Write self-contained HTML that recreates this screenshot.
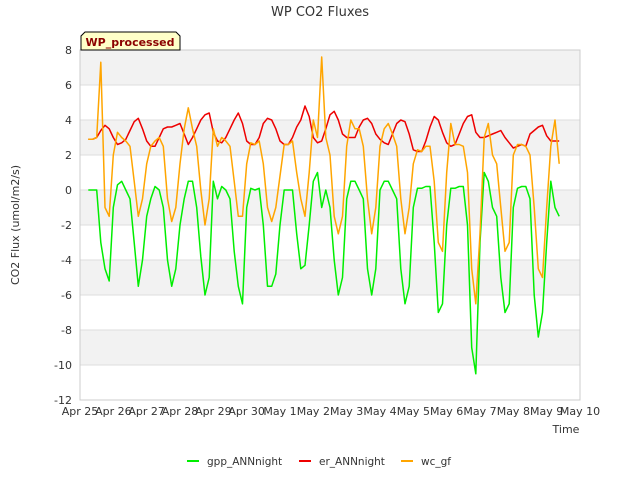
<!DOCTYPE html>
<html><head><meta charset="utf-8"><style>
body{margin:0;background:#fff;font-family:"Liberation Sans","DejaVu Sans",sans-serif}
svg text{font-family:"DejaVu Sans","Liberation Sans",sans-serif}
</style></head><body>
<svg id="chart" width="640" height="480" viewBox="0 0 640 480" xmlns="http://www.w3.org/2000/svg">
<g id="bands"></g><g id="grid"></g>
<rect x="80" y="50" width="500" height="350" fill="none" stroke="#ccc"/>
<g id="series"></g><g id="ticks"></g>
<text x="320" y="16" text-anchor="middle" font-size="13" fill="#333">WP CO2 Fluxes</text>
<text x="19" y="225" text-anchor="middle" font-size="11" fill="#333" transform="rotate(-90 19 225)">CO2 Flux (umol/m2/s)</text>
<text x="566" y="433" text-anchor="middle" font-size="11" fill="#333">Time</text>
<g>
<path d="M81,50 L81,36 L85,32 L176,32 L180,36 L180,50 Z" fill="#ffffc8" stroke="#000"/>
<text x="130" y="46" text-anchor="middle" font-size="11" font-weight="bold" fill="#8b0000">WP_processed</text></g>
<g>
<g><line x1="187" y1="461" x2="199" y2="461" stroke="#00ee00" stroke-width="2"/><text x="207" y="465" font-size="10.5" fill="#333">gpp_ANNnight</text></g>
<g><line x1="299" y1="461" x2="311" y2="461" stroke="#ee0000" stroke-width="2"/><text x="319" y="465" font-size="10.5" fill="#333">er_ANNnight</text></g>
<g><line x1="401" y1="461" x2="413" y2="461" stroke="#ffa500" stroke-width="2"/><text x="421" y="465" font-size="10.5" fill="#333">wc_gf</text></g>
</g>
</svg>
<script>
const xTickLabels=["Apr 25","Apr 26","Apr 27","Apr 28","Apr 29","Apr 30","May 1","May 2","May 3","May 4","May 5","May 6","May 7","May 8","May 9","May 10"];
const yTicks=[8,6,4,2,0,-2,-4,-6,-8,-10,-12];
const gpp=[0,0,0,-3,-4.5,-5.2,-1,0.3,
0.5,0,-0.5,-3,-5.5,-4,-1.5,-0.5,
0.2,0,-1,-4,-5.5,-4.5,-2,-0.5,
0.5,0.5,-1,-3.8,-6,-5,0.5,-0.5,
0.2,0,-0.5,-3.5,-5.5,-6.5,-1,0.1,
0,0.1,-2,-5.5,-5.5,-4.8,-2,0,
0,0,-2.5,-4.5,-4.3,-2,0.5,1,
-1,0,-1,-4,-6,-5,-0.5,0.5,
0.5,0,-0.5,-4.5,-6,-4.5,0,0.5,
0.5,0,-0.5,-4.5,-6.5,-5.5,-1,0.1,
0.1,0.2,0.2,-3,-7,-6.5,-2,0.1,
0.1,0.2,0.2,-2,-9,-10.5,-3,1,
0.5,-1,-1.5,-5,-7,-6.5,-1,0.1,
0.2,0.2,-0.5,-6,-8.4,-7,-3,0.5,
-1,-1.5];
const er=[2.9,2.9,3.0,3.4,3.7,3.5,3.0,2.6,
2.7,2.9,3.4,3.9,4.1,3.5,2.8,2.5,
2.5,3.0,3.5,3.6,3.6,3.7,3.8,3.2,
2.6,3.0,3.5,4.0,4.3,4.4,3.3,2.8,
2.7,3.0,3.5,4.0,4.4,3.8,2.8,2.6,
2.6,3.0,3.8,4.1,4.0,3.5,2.8,2.6,
2.6,3.0,3.6,4.0,4.8,4.2,3.0,2.7,
2.8,3.5,4.3,4.5,4.0,3.2,3.0,3.0,
3.0,3.6,4.0,4.1,3.8,3.2,2.9,2.7,
2.6,3.2,3.8,4.0,3.9,3.2,2.3,2.2,
2.2,2.8,3.6,4.2,4.0,3.3,2.7,2.5,
2.6,3.2,3.8,4.2,4.3,3.3,3.0,3.0,
3.1,3.2,3.3,3.4,3.0,2.7,2.4,2.5,
2.6,2.5,3.2,3.4,3.6,3.7,3.1,2.8,
2.8,2.8];
const wc=[2.9,2.9,3.0,7.3,-1,-1.5,2.0,3.3,
3.0,2.8,2.5,0.5,-1.5,-0.5,1.5,2.5,
2.8,3.0,2.5,-0.5,-1.8,-1.0,1.5,3.5,
4.7,3.5,2.5,0,-2.0,-0.5,3.5,2.5,
3.0,2.8,2.5,0.5,-1.5,-1.5,1.5,2.7,
2.6,2.8,1.5,-1.0,-1.8,-1.0,0.8,2.6,
2.6,2.8,1.0,-0.5,-1.5,1.0,4.0,3.0,
7.6,3.0,2.0,-1.5,-2.5,-1.5,2.5,4.0,
3.5,3.5,2.5,-0.5,-2.5,-1.0,2.5,3.5,
3.8,3.2,2.5,-0.5,-2.5,-1.0,1.5,2.3,
2.2,2.5,2.5,0.5,-3.0,-3.5,1.0,3.8,
2.6,2.6,2.5,1.0,-4.5,-6.5,-2.5,3.0,
3.8,2.0,1.5,-1.0,-3.5,-3.0,2.0,2.6,
2.6,2.5,2.0,-1.0,-4.5,-5.0,-1.0,2.5,
4.0,1.5];
const t0=0.25, dt=0.125;
const NS="http://www.w3.org/2000/svg";
const xs=d=>80+d*500/15;
const ys=v=>50+(8-v)*350/20;
function mk(tag,attrs,parent){const e=document.createElementNS(NS,tag);for(const k in attrs)e.setAttribute(k,attrs[k]);parent.appendChild(e);return e;}
const bands=document.getElementById('bands'),grid=document.getElementById('grid'),ticks=document.getElementById('ticks'),series=document.getElementById('series');
[[8,6],[4,2],[0,-2],[-4,-6],[-8,-10]].forEach(b=>{const r=mk('rect',{x:80,y:ys(b[0]),width:500,height:ys(b[1])-ys(b[0]),fill:'#f2f2f2'},bands);

});
yTicks.forEach(v=>{const l=mk('line',{x1:80,x2:580,y1:ys(v),y2:ys(v),stroke:'#ddd'},grid);


const t=mk('text',{x:72,y:ys(v)+4,'text-anchor':'end','font-size':11,fill:'#333'},ticks);t.textContent=v;

});
xTickLabels.forEach((s,i)=>{const t=mk('text',{x:xs(i),y:415,'text-anchor':'middle','font-size':11,fill:'#333'},ticks);t.textContent=s;

});
function line(arr,color,name){const pts=arr.map((v,i)=>xs(t0+i*dt).toFixed(1)+','+ys(v).toFixed(1)).join(' ');
const p=mk('polyline',{points:pts,fill:'none',stroke:color,'stroke-width':1.5,'stroke-linejoin':'round'},series);

}
line(er,'#ee0000','er-line');
line(gpp,'#00ee00','gpp-line');
line(wc,'#ffa500','wc-line');
</script>
</body></html>
